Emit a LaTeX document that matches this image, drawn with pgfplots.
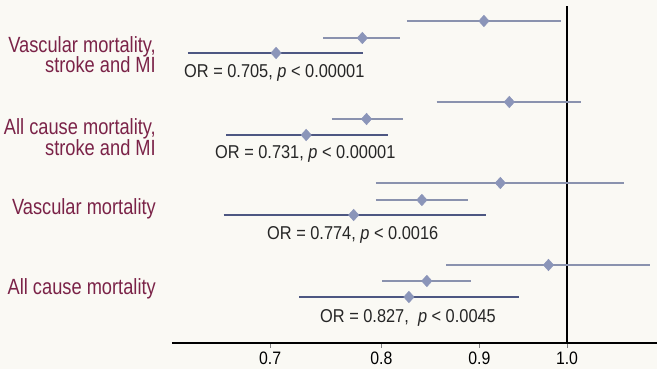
\documentclass[border=0pt]{standalone}
\usepackage{pgfplots}
\pgfplotsset{compat=1.18}
\usepackage{fontspec}
\setmainfont{Liberation Sans}
\newfontfamily\labfont[FakeStretch=0.83]{Liberation Sans}
\newfontfamily\orfont[FakeStretch=0.88]{Liberation Sans}
\definecolor{bg}{HTML}{FAF9F4}
\definecolor{maroon}{HTML}{7B2348}
\definecolor{cilight}{HTML}{8A92AE}
\definecolor{cidark}{HTML}{4D5782}
\definecolor{dia}{HTML}{8B95B9}
\begin{document}
\begin{tikzpicture}
\fill[bg] (-172pt,-26pt) rectangle (485pt,343pt);
\begin{axis}[
  at={(0,0)}, anchor=south west,
  scale only axis, width=485pt, height=343pt,
  xmode=log, xmin=0.6221, xmax=1.1142, ymin=0, ymax=343,
  axis y line=none, axis x line=bottom,
  x axis line style={-, line width=1.3pt},
  xtick={0.7,0.8,0.9,1.0}, xticklabels={0.7,0.8,0.9,1.0},
  minor xtick={},
  tick align=outside, major tick length=5pt,
  xtick style={line width=0.4pt, gray},
  xticklabel style={font=\fontsize{18}{18}\selectfont\orfont, text=black},
  clip=false,
]
% reference line at OR = 1
\addplot[black, line width=1.4pt] coordinates {(1,0) (1,337)};
% confidence intervals: light rows
\addplot[cilight, line width=1.4pt] coordinates {(0.825,322) (0.993,322)};
\addplot[cilight, line width=1.4pt] coordinates {(0.746,305) (0.818,305)};
\addplot[cilight, line width=1.4pt] coordinates {(0.855,241) (1.017,241)};
\addplot[cilight, line width=1.4pt] coordinates {(0.754,224) (0.821,224)};
\addplot[cilight, line width=1.4pt] coordinates {(0.795,160) (1.071,160)};
\addplot[cilight, line width=1.4pt] coordinates {(0.795,143) (0.888,143)};
\addplot[cilight, line width=1.4pt] coordinates {(0.865,78) (1.105,78)};
\addplot[cilight, line width=1.4pt] coordinates {(0.801,62) (0.891,62)};
% dark rows (pooled)
\addplot[cidark, line width=1.1pt] coordinates {(0.634,290) (0.783,290)};
\addplot[cidark, line width=1.1pt] coordinates {(0.664,208) (0.806,208)};
\addplot[cidark, line width=1.1pt] coordinates {(0.662,128) (0.907,128)};
\addplot[cidark, line width=1.1pt] coordinates {(0.725,46) (0.944,46)};
% point estimates
\addplot[only marks, mark=diamond*, mark size=5.8pt, mark options={draw=dia, fill=dia, xscale=1.2}] coordinates {
(0.905,322) (0.782,305) (0.705,290)
(0.933,241) (0.786,224) (0.731,208)
(0.923,160) (0.840,143) (0.774,128)
(0.978,78) (0.845,62) (0.827,46)
};
\end{axis}
\begin{scope}[every node/.style={inner sep=0pt, text=maroon, font=\fontsize{22}{22}\selectfont\labfont}]
\node[anchor=base east] at (-16pt,290pt) {Vascular mortality,};
\node[anchor=base east] at (-16pt,270pt) {stroke and MI};
\node[anchor=base east] at (-16pt,208pt) {All cause mortality,};
\node[anchor=base east] at (-16pt,187pt) {stroke and MI};
\node[anchor=base east] at (-16pt,128pt) {Vascular mortality};
\node[anchor=base east] at (-16pt,48pt) {All cause mortality};
\end{scope}
\begin{scope}[every node/.style={inner sep=0pt, text=black!85, font=\fontsize{18.6}{18.6}\selectfont\orfont, anchor=base west}]
\node at (12pt,265pt) {OR = 0.705, \textit{p} < 0.00001};
\node at (43pt,184pt) {OR = 0.731, \textit{p} < 0.00001};
\node at (95pt,103pt) {OR = 0.774, \textit{p} < 0.0016};
\node at (148pt,20pt) {OR = 0.827, \ \textit{p} < 0.0045};
\end{scope}
\pgfresetboundingbox
\path (-172pt,-26pt) rectangle (485pt,343pt);
\end{tikzpicture}
\end{document}
